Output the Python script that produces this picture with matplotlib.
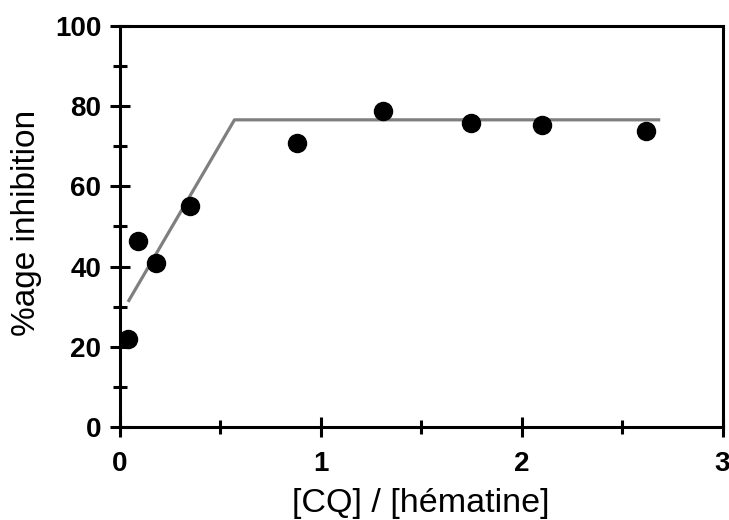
import matplotlib
matplotlib.use("Agg")
import matplotlib.pyplot as plt
from matplotlib.ticker import MultipleLocator

# data points
ratio = [0.04, 0.09, 0.18, 0.35, 0.88, 1.31, 1.75, 2.10, 2.62]
inhibition = [22.0, 46.4, 41.0, 55.0, 70.7, 78.8, 75.8, 75.2, 73.8]

# fitted broken-line
fit_x = [0.04, 0.57, 2.69]
fit_y = [31.2, 76.6, 76.6]

plt.rcParams['font.family'] = ['Liberation Sans', 'DejaVu Sans']

fig = plt.figure(figsize=(7.29, 5.2), dpi=100)
ax = fig.add_axes([120/729, 1 - 427/520, (722.5-120)/729, (427-26)/520])

ax.plot(fit_x, fit_y, color='#7f7f7f', lw=2.3, solid_capstyle='butt', zorder=2)
ax.plot(ratio, inhibition, 'o', color='black', ms=13, zorder=3)

ax.set_xlim(0, 3)
ax.set_ylim(0, 100)
ax.xaxis.set_major_locator(MultipleLocator(1))
ax.xaxis.set_minor_locator(MultipleLocator(0.5))
ax.yaxis.set_major_locator(MultipleLocator(20))
ax.yaxis.set_minor_locator(MultipleLocator(10))

for s in ax.spines.values():
    s.set_linewidth(2.2)
ax.tick_params(which='major', direction='inout', length=15, width=2.2,
               labelsize=20, pad=6)
ax.tick_params(axis='x', which='major', pad=10)
ax.tick_params(which='minor', direction='inout', length=9.5, width=2.2)
ax.tick_params(top=False, right=False, which='both')
for lab in ax.get_xticklabels() + ax.get_yticklabels():
    lab.set_fontweight('bold')

ax.set_xlabel('[CQ] / [hématine]', fontsize=24.5)
ax.set_ylabel('%age inhibition', fontsize=24)
ax.xaxis.set_label_coords(0.5, -0.152)
ax.yaxis.set_label_coords(-0.129, 0.51)

fig.savefig('out.png', dpi=100)
